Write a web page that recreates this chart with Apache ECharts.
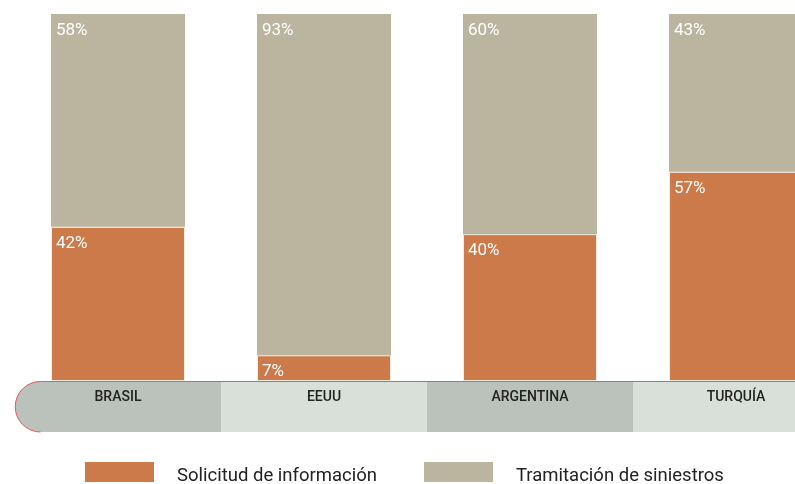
<!DOCTYPE html>
<html>
<head>
<meta charset="utf-8">
<script src="https://cdn.jsdelivr.net/npm/echarts@6/dist/echarts.min.js"></script>
<style>
  html, body { margin: 0; padding: 0; background: #fff; }
  #chart { width: 795px; height: 484px; }
</style>
</head>
<body>
<div id="chart"></div>
<script>
// datos del gráfico
const paises = ['BRASIL', 'EEUU', 'ARGENTINA', 'TURQUÍA']
const solicitud = [42, 7, 40, 57]
const tramitacion = [58, 93, 60, 43]
const bandaColores = ['#bbc2bb', '#d9e0da', '#bbc2bb', '#d9e0da']

const chart = echarts.init(document.getElementById('chart'))

const etiqueta = {
  show: true,
  position: 'insideTopLeft',
  distance: 7,
  offset: [-2, 1],
  color: '#fff',
  fontSize: 17,
  fontFamily: 'Roboto',
  formatter: p => p.value + '%'
}

const leyendaTexto = {
  padding: [0, 0, 0, 18],
  rich: {
    t: { fontSize: 18.5, color: '#222', fontFamily: 'Roboto', padding: [8, 0, 0, 0] }
  }
}

chart.setOption({
  animation: false,
  grid: [
    { left: 15, width: 824, top: 14, height: 367, outerBoundsMode: 'none' },
    { left: 15, width: 824, top: 381, height: 51, outerBoundsMode: 'none' }
  ],
  xAxis: [
    {
      type: 'category', gridIndex: 0, data: paises,
      axisLine: { show: false }, axisTick: { show: false }, axisLabel: { show: false }
    },
    {
      type: 'category', gridIndex: 1, data: paises,
      axisLine: { show: false }, axisTick: { show: false }, axisLabel: { show: false }
    }
  ],
  yAxis: [
    { type: 'value', gridIndex: 0, min: 0, max: 100, show: false },
    { type: 'value', gridIndex: 1, min: 0, max: 1, show: false }
  ],
  legend: [
    {
      left: 85, top: 462, padding: 0, itemWidth: 69, itemHeight: 20, icon: 'rect',
      itemStyle: { borderWidth: 0 }, formatter: '{t|{name}}',
      data: ['Solicitud de información'], textStyle: leyendaTexto
    },
    {
      left: 424, top: 462, padding: 0, itemWidth: 69, itemHeight: 20, icon: 'rect',
      itemStyle: { borderWidth: 0 }, formatter: '{t|{name}}',
      data: ['Tramitación de siniestros'], textStyle: leyendaTexto
    }
  ],
  series: [
    {
      name: 'Solicitud de información', type: 'bar', stack: 'total',
      data: solicitud, barWidth: 134, z: 3,
      itemStyle: { color: '#cc7a4a', borderColor: '#f1ece2', borderWidth: 1 },
      label: etiqueta
    },
    {
      name: 'Tramitación de siniestros', type: 'bar', stack: 'total',
      data: tramitacion, barWidth: 134, z: 3,
      itemStyle: { color: '#bbb59f' },
      label: etiqueta
    },
    {
      name: 'banda', type: 'bar', xAxisIndex: 1, yAxisIndex: 1,
      data: paises.map((p, i) => ({
        value: 1,
        itemStyle: {
          color: bandaColores[i],
          borderRadius: i === 0 ? [25.5, 0, 0, 25.5] : 0
        }
      })),
      barWidth: '100%', silent: true,
      label: {
        show: true, position: 'insideTop', distance: 9,
        formatter: p => p.name, fontSize: 14, fontWeight: 500, color: '#222', fontFamily: 'Roboto'
      }
    }
  ],
  graphic: [
    // contorno rojo de la banda de países
    {
      type: 'line', silent: true, z: 10,
      shape: { x1: 40.5, y1: 381.5, x2: 795, y2: 381.5 },
      style: { stroke: '#e8595c', lineWidth: 1 }
    },
    {
      type: 'arc', silent: true, z: 10,
      shape: { cx: 40.5, cy: 406.75, r: 25.25, startAngle: Math.PI / 2, endAngle: Math.PI * 1.5 },
      style: { stroke: '#e8595c', fill: null, lineWidth: 1 }
    }
  ]
})
</script>
</body>
</html>
